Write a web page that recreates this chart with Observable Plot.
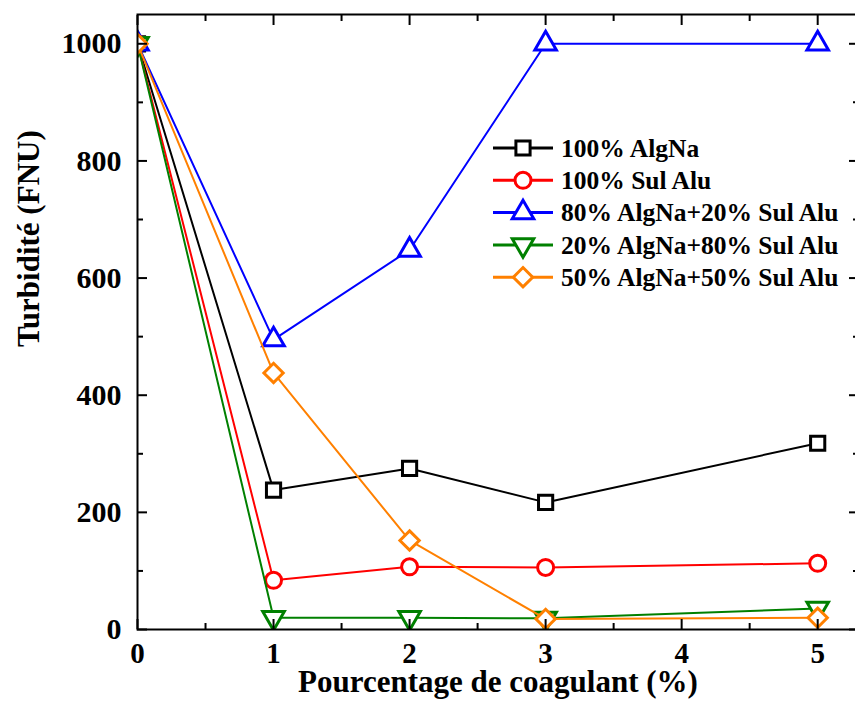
<!DOCTYPE html>
<html><head><meta charset="utf-8">
<script src="https://cdn.jsdelivr.net/npm/d3@7"></script>
<script src="https://cdn.jsdelivr.net/npm/@observablehq/plot@0.6"></script>
<style>
body{margin:0;background:#fff}
#wrap{position:relative;width:855px;height:708px;overflow:hidden;font-family:"Liberation Serif","Times New Roman",Times,serif}
#wrap svg{position:absolute;left:0;top:0}
#wrap text{font-family:"Liberation Serif","Times New Roman",Times,serif !important}
</style>
</head><body><div id="wrap"></div>
<script>
// ---- data ----
const coagulant = [0, 1, 2, 3, 5];
const seriesNames = ["100% AlgNa", "100% Sul Alu", "80% AlgNa+20% Sul Alu", "20% AlgNa+80% Sul Alu", "50% AlgNa+50% Sul Alu"];
const algna100 = [1000, 238, 275, 217, 318];
const sulAlu100 = [1000, 84, 107, 106, 113];
const mix80_20 = [1000, 495, 648, 1000, 1000];
const mix20_80 = [1000, 20, 20, 19, 36];
const mix50_50 = [1000, 438, 152, 18, 20];
const seriesColors = ["#000000", "#ff0000", "#0000ff", "#008000", "#ff8000"];
const xTicks = [0, 1, 2, 3, 4, 5];
const xMinor = [0.5, 1.5, 2.5, 3.5, 4.5];
const yTicks = [0, 200, 400, 600, 800, 1000];
const yMinor = [100, 300, 500, 700, 900];
const xTitle = "Pourcentage de coagulant (%)";
const yTitle = "Turbidité (FNU)";

const triangleDown = {
  draw(context, size) {
    const y = -Math.sqrt(size / (Math.sqrt(3) * 3));
    context.moveTo(0, -y * 2);
    context.lineTo(-Math.sqrt(3) * y, y);
    context.lineTo(Math.sqrt(3) * y, y);
    context.closePath();
  }
};
const seriesSymbols = [d3.symbolSquare, d3.symbolCircle, d3.symbolTriangle, triangleDown, d3.symbolDiamond2];
const seriesR = [8, 8, 8, 8, 8.7];
const seriesValues = [algna100, sulAlu100, mix80_20, mix20_80, mix50_50];

const font = "Liberation Serif, Times New Roman, serif";

const marks = [];
seriesNames.forEach((name, i) => {
  const rows = coagulant.map((x, j) => ({x, y: seriesValues[i][j], s: name}));
  marks.push(Plot.line(rows, {x: "x", y: "y", stroke: seriesColors[i], strokeWidth: 2, clip: true}));
  marks.push(Plot.dot(rows, {x: "x", y: "y", stroke: seriesColors[i], fill: "white", strokeWidth: 3,
    symbol: seriesSymbols[i], r: seriesR[i], clip: true}));
});

const fmt = d => String(d);
const chart = Plot.plot({
  width: 855, height: 708,
  marginLeft: 137, marginRight: -3, marginTop: 14, marginBottom: 79,
  style: {fontFamily: font, fontWeight: "bold", fontSize: "30px", background: "white", overflow: "visible"},
  x: {domain: [0, 5.3]},
  y: {domain: [0, 1050]},
  marks: [
    ...marks,
    Plot.frame({stroke: "black", strokeWidth: 2}),
    Plot.axisX({ticks: xTicks, tickSize: -10, tickPadding: 23, tickFormat: fmt, strokeWidth: 2, label: null, fontSize: 29}),
    Plot.axisX({ticks: xMinor, tickSize: -6, tickFormat: () => "", strokeWidth: 2, label: null}),
    Plot.axisX({anchor: "top", ticks: xTicks, tickSize: -10, tickFormat: () => "", strokeWidth: 2, label: null}),
    Plot.axisX({anchor: "top", ticks: xMinor, tickSize: -6, tickFormat: () => "", strokeWidth: 2, label: null}),
    Plot.axisY({ticks: yTicks, tickSize: -10, tickPadding: 26, tickFormat: fmt, strokeWidth: 2, label: null, fontSize: 30}),
    Plot.axisY({ticks: yMinor, tickSize: -6, tickFormat: () => "", strokeWidth: 2, label: null}),
    Plot.axisY({anchor: "right", ticks: yTicks, tickSize: -10, tickFormat: () => "", strokeWidth: 2, label: null}),
    Plot.axisY({anchor: "right", ticks: yMinor, tickSize: -6, tickFormat: () => "", strokeWidth: 2, label: null}),
    Plot.text([xTitle], {frameAnchor: "bottom", dy: 53, text: d => d, fontSize: 31, fontWeight: "bold", lineAnchor: "middle"}),
    Plot.text([yTitle], {frameAnchor: "left", dx: -108, dy: 25, rotate: -90, text: d => d, fontSize: 31, fontWeight: "bold", lineAnchor: "middle"})
  ]
});
const wrap = document.getElementById("wrap");
wrap.appendChild(chart);

// ---- legend (overlay) ----
const lg = d3.select(wrap).append("svg")
  .attr("width", 855).attr("height", 708)
  .style("pointer-events", "none");
const legX0 = 493, legX1 = 553, legSym = 523, legText = 561, legY0 = 148, legDy = 32.3;
seriesNames.forEach((name, i) => {
  const y = legY0 + i * legDy;
  const g = lg.append("g");
  g.append("line").attr("x1", legX0).attr("x2", legX1).attr("y1", y).attr("y2", y)
    .attr("stroke", seriesColors[i]).attr("stroke-width", 3);
  g.append("path").attr("transform", `translate(${legSym},${y})`)
    .attr("d", d3.symbol(seriesSymbols[i], Math.PI * seriesR[i] * seriesR[i])())
    .attr("fill", "white").attr("stroke", seriesColors[i]).attr("stroke-width", 3);
  g.append("text").attr("x", legText).attr("y", y).attr("dy", "0.34em")
    .attr("font-weight", "bold").attr("font-size", 25.5)
    .attr("fill", "black").text(name);
});
</script>
</body></html>
